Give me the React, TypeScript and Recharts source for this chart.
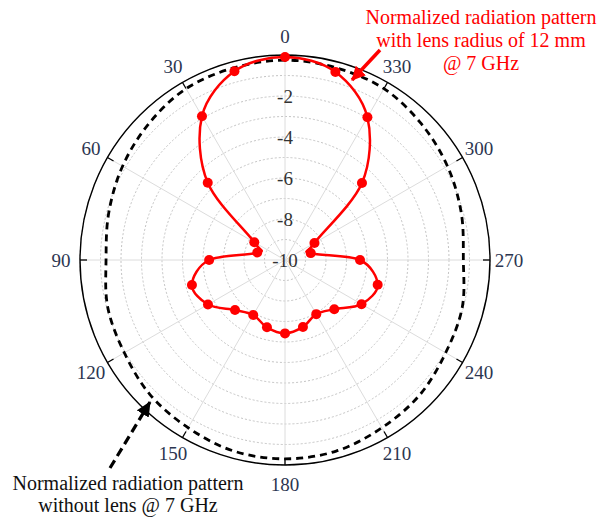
import { PolarAngleAxis, PolarGrid, PolarRadiusAxis, Radar, RadarChart } from "recharts";

// angles in degrees, 0 at top, counter-clockwise
const angles = [0, 15, 30, 45, 60, 75, 90, 105, 120, 135, 150, 165, 180, 195, 210, 225, 240, 255, 270, 285, 300, 315, 330, 345];

// normalized pattern (dB) with lens radius of 12 mm @ 7 GHz
const withLens = [-0.1, -0.47, -1.9, -4.67, -8.27, -8.6, -6.3, -5.3, -5.66, -6.55, -6.9, -6.6, -6.42, -6.62, -6.95, -6.6, -5.69, -5.32, -6.34, -8.7, -8.34, -4.69, -1.96, -0.5];

// normalized pattern (dB) without lens @ 7 GHz
const withoutLens = [-0.25, -0.3, -0.35, -0.6, -0.85, -1.1, -1.27, -1.05, -0.95, -0.7, -0.55, -0.35, -0.3, -0.35, -0.55, -0.7, -0.95, -1.05, -1.3, -1.1, -0.85, -0.6, -0.35, -0.3];

const angleTicks = [0, 30, 60, 90, 120, 150, 180, 210, 240, 270, 300, 330];
const gridLevels = [-10, -9, -8, -7, -6, -5, -4, -3, -2, -1, 0];
const upperLabels = [-10, -8, -6, -4, -2];
const lowerLabels = [-8, -6, -4, -2];

const data = angles.map((angle, i) => ({ angle, lens: withLens[i], noLens: withoutLens[i] }));

const FONT = '"Liberation Serif", "Times New Roman", serif';
const TICK_GAP = 19;

// closed cardinal spline through the radar points
function smoothClosed(points: { x: number; y: number }[]) {
  const n = points.length;
  if (!n) return "";
  let d = `M${points[0].x},${points[0].y}`;
  for (let i = 0; i < n; i++) {
    const p0 = points[(i - 1 + n) % n];
    const p1 = points[i];
    const p2 = points[(i + 1) % n];
    const p3 = points[(i + 2) % n];
    const c1x = p1.x + (p2.x - p0.x) / 6;
    const c1y = p1.y + (p2.y - p0.y) / 6;
    const c2x = p2.x - (p3.x - p1.x) / 6;
    const c2y = p2.y - (p3.y - p1.y) / 6;
    d += ` C${c1x},${c1y} ${c2x},${c2y} ${p2.x},${p2.y}`;
  }
  return d + "Z";
}

function smoothShape(stroke: string, width: number, dash?: string) {
  return (props: any) => <path d={smoothClosed(props.points)} fill="none" stroke={stroke} strokeWidth={width} strokeDasharray={dash} />;
}

function RedDot(props: any) {
  const { cx, cy } = props;
  return <circle cx={cx} cy={cy} r={5} fill="#ff0000" />;
}

function AngleTick(props: any) {
  const { x, y, payload } = props;
  const a = (payload.coordinate * Math.PI) / 180;
  const c = Math.cos(a);
  const s = Math.sin(a);
  return (
    <g>
      <line
        x1={x - TICK_GAP * c}
        y1={y + TICK_GAP * s}
        x2={x - (TICK_GAP + 7) * c}
        y2={y + (TICK_GAP + 7) * s}
        stroke="#000"
        strokeWidth={1.3}
      />
      <text x={x} y={y} textAnchor="middle" dominantBaseline="central" fontFamily={FONT} fontSize={19} fill="#2c3550">
        {payload.value}
      </text>
    </g>
  );
}

function makeRadiusTick(shown: number[]) {
  return (props: any) => {
    const { x, y, payload } = props;
    if (!shown.includes(payload.value)) return <g />;
    return (
      <text x={x} y={y} textAnchor="middle" dominantBaseline="central" fontFamily={FONT} fontSize={19} fill="#333">
        {payload.value}
      </text>
    );
  };
}

export default function App() {
  return (
    <div style={{ position: "absolute", left: 0, top: 0, width: 613, height: 519, background: "#fff", fontFamily: FONT }}>
      <RadarChart
        width={613}
        height={519}
        data={data}
        cx={285}
        cy={260}
        outerRadius={205}
        startAngle={90}
        endAngle={450}
        margin={{ top: 0, right: 0, bottom: 0, left: 0 }}
      >
        <PolarGrid gridType="circle" radialLines={false} stroke="#c4c4c4" strokeDasharray="2 2" />
        <PolarGrid gridType="circle" polarRadius={[0]} stroke="#dcdcdc" />
        <PolarAngleAxis
          dataKey="angle"
          type="number"
          domain={[0, 360]}
          ticks={angleTicks}
          tickSize={TICK_GAP}
          tickLine={false}
          axisLineType="circle"
          axisLine={{ stroke: "#000", strokeWidth: 1.4 }}
          tick={AngleTick}
        />
        <PolarRadiusAxis
          angle={90}
          type="number"
          domain={[-10, 0]}
          ticks={gridLevels}
          axisLine={false}
          tick={makeRadiusTick(upperLabels)}
        />
        <PolarRadiusAxis
          radiusAxisId={1}
          angle={270}
          type="number"
          domain={[-10, 0]}
          ticks={lowerLabels}
          axisLine={false}
          tick={makeRadiusTick(lowerLabels)}
        />
        <Radar
          dataKey="noLens"
          stroke="#000"
          fill="none"
          dot={false}
          shape={smoothShape("#000", 2.8, "7 5")}
          isAnimationActive={false}
        />
        <Radar
          dataKey="lens"
          stroke="#ff0000"
          fill="none"
          dot={RedDot}
          shape={smoothShape("#ff0000", 2.5)}
          isAnimationActive={false}
        />
      </RadarChart>
      <svg width={613} height={519} style={{ position: "absolute", left: 0, top: 0, pointerEvents: "none" }}>
        <defs>
          <marker id="redHead" markerUnits="userSpaceOnUse" markerWidth={14} markerHeight={14} refX={13} refY={7} orient="auto">
            <path d="M0,0 L14,7 L0,14 z" fill="#ff0000" />
          </marker>
          <marker id="blackHead" markerUnits="userSpaceOnUse" markerWidth={15} markerHeight={14} refX={14} refY={7} orient="auto">
            <path d="M0,0 L15,7 L0,14 z" fill="#000" />
          </marker>
        </defs>
        <line x1={380} y1={50} x2={352} y2={80} stroke="#ff0000" strokeWidth={3.5} markerEnd="url(#redHead)" />
        <line x1={110} y1={468} x2={150} y2={402} stroke="#000" strokeWidth={3.2} strokeDasharray="9 5" markerEnd="url(#blackHead)" />
        <g fontFamily={FONT} fontSize={20} textAnchor="middle" fill="#ff0000">
          <text x={481} y={24}>Normalized radiation pattern</text>
          <text x={481} y={47}>with lens radius of 12 mm</text>
          <text x={481} y={70}>@ 7 GHz</text>
        </g>
        <g fontFamily={FONT} fontSize={20} textAnchor="middle" fill="#111">
          <text x={128} y={490}>Normalized radiation pattern</text>
          <text x={128} y={512}>without lens @ 7 GHz</text>
        </g>
      </svg>
    </div>
  );
}
